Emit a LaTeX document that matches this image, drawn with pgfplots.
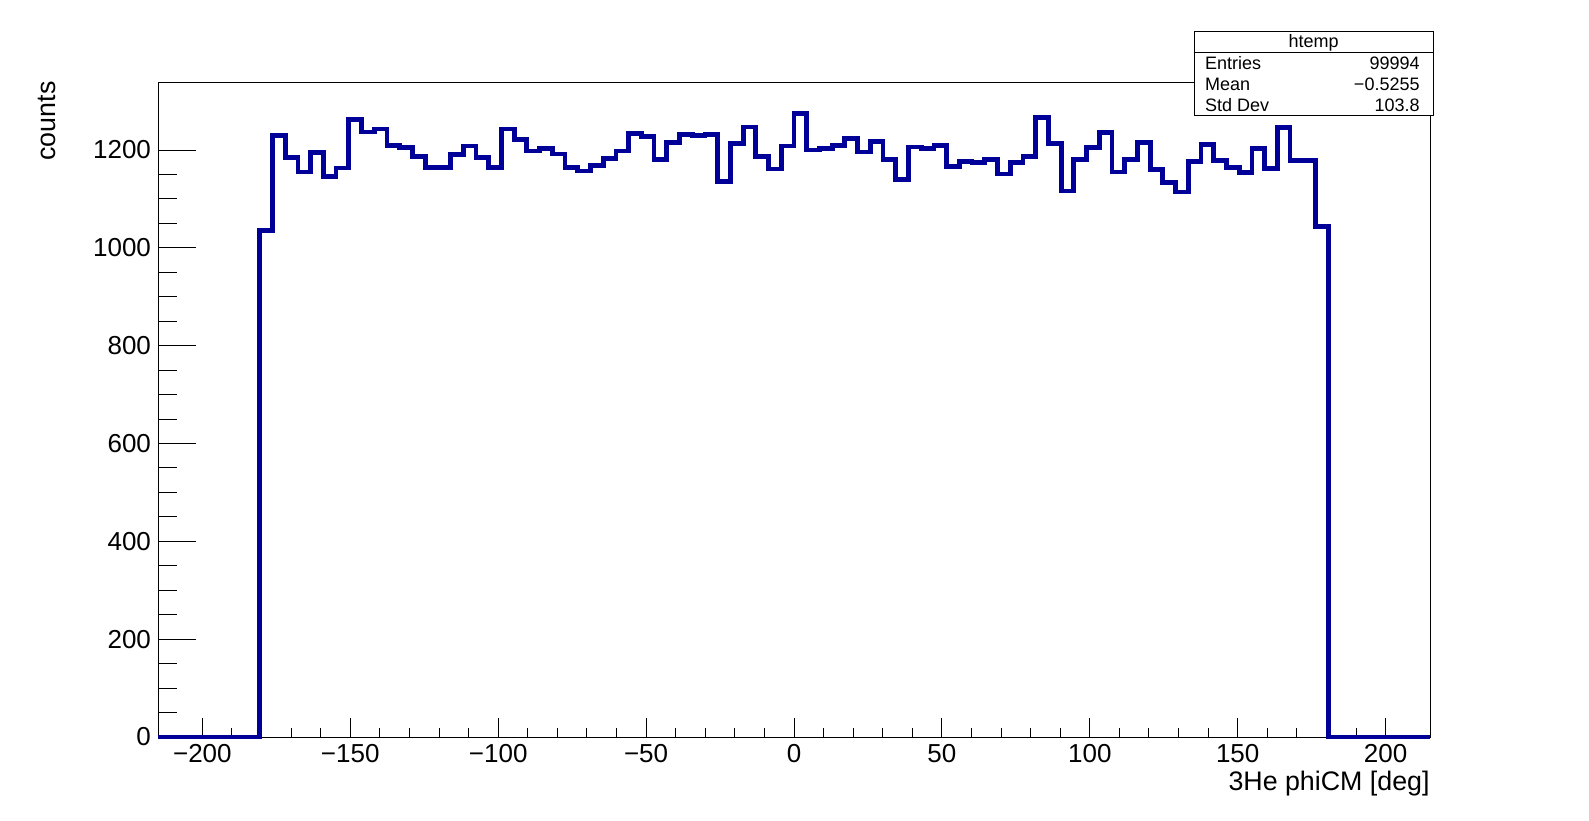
\documentclass[border=0pt]{standalone}
\usepackage{fontspec}
\setmainfont{Liberation Sans}
\usepackage{pgfplots}
\pgfplotsset{compat=1.18}
\definecolor{hblue}{RGB}{0,0,153}
\begin{document}
\begin{tikzpicture}
\path[use as bounding box] (0,0) rectangle (794.5pt,410pt);
\begin{axis}[
  at={(79pt,41.5pt)}, anchor=south west,
  scale only axis, width=636pt, height=327.25pt,
  xmin=-215, xmax=215, ymin=0, ymax=1338,
  clip=false,
  axis line style={line width=0.5pt, black},
  tick align=inside,
  tick pos=left,
  xtick={-200,-150,-100,-50,0,50,100,150,200},
  xticklabels={−200,−150,−100,−50,0,50,100,150,200},
  minor x tick num=4,
  ytick={0,200,400,600,800,1000,1200},
  yticklabels={0,200,400,600,800,1000,1200},
  minor y tick num=3,
  xtick style={line width=0.5pt, black, /pgfplots/major tick length=9.75pt, /pgfplots/minor tick length=4.75pt},
  ytick style={line width=0.5pt, black, /pgfplots/major tick length=19pt, /pgfplots/minor tick length=9.5pt},
  ticklabel style={font=\fontsize{13pt}{15pt}\selectfont},
  xlabel={3He phiCM [deg]},
  ylabel={counts},
  label style={font=\fontsize{13.4pt}{16pt}\selectfont, inner sep=0pt},
  xlabel style={at={(axis description cs:1,-0.081)}, anchor=base east},
  ylabel style={at={(axis description cs:-0.0804,1.002)}, anchor=base east},
]
\addplot[const plot mark left, draw=hblue, line width=2.4pt, mark=none] coordinates {
(-215,0)
(-180.6,1036) (-176.3,1230) (-172.0,1185) (-167.7,1155) (-163.4,1195)
(-159.1,1146) (-154.8,1163) (-150.5,1262) (-146.2,1237) (-141.9,1243)
(-137.6,1210) (-133.3,1205) (-129.0,1187) (-124.7,1165) (-120.4,1165)
(-116.1,1190) (-111.8,1208) (-107.5,1185) (-103.2,1165) (-98.9,1243)
(-94.6,1221) (-90.3,1198) (-86.0,1203) (-81.7,1192) (-77.4,1165)
(-73.1,1157) (-68.8,1169) (-64.5,1183) (-60.2,1198) (-55.9,1233)
(-51.6,1228) (-47.3,1181) (-43.0,1216) (-38.7,1232) (-34.4,1229)
(-30.1,1232) (-25.8,1135) (-21.5,1214) (-17.2,1247) (-12.9,1187)
(-8.6,1161) (-4.3,1208) (0,1275) (4.3,1200) (8.6,1203)
(12.9,1210) (17.2,1223) (21.5,1196) (25.8,1218) (30.1,1181)
(34.4,1139) (38.7,1206) (43.0,1203) (47.3,1209) (51.6,1167)
(55.9,1177) (60.2,1175) (64.5,1181) (68.8,1151) (73.1,1175)
(77.4,1187) (81.7,1267) (86.0,1214) (90.3,1116) (94.6,1181)
(98.9,1205) (103.2,1236) (107.5,1155) (111.8,1181) (116.1,1216)
(120.4,1160) (124.7,1133) (129.0,1114) (133.3,1177) (137.6,1212)
(141.9,1179) (146.2,1165) (150.5,1154) (154.8,1203) (159.1,1162)
(163.4,1246) (167.7,1178) (172.0,1179) (176.3,1043)
(180.6,0) (215,0)
};
\draw[fill=white, line width=0.5pt] (axis description cs:0.8145,0.9496) rectangle (axis description cs:1.0024,1.0779);
\draw[line width=0.5pt] (axis description cs:0.8145,1.0455) -- (axis description cs:1.0024,1.0455);
\node[anchor=base, inner sep=0pt, font=\fontsize{9pt}{10pt}\selectfont] at (axis description cs:0.90845,1.0527) {htemp};
\node[anchor=base west, inner sep=0pt, font=\fontsize{9pt}{10pt}\selectfont] at (axis description cs:0.8228,1.0202) {Entries};
\node[anchor=base east, inner sep=0pt, font=\fontsize{9pt}{10pt}\selectfont] at (axis description cs:0.9921,1.0202) {99994};
\node[anchor=base west, inner sep=0pt, font=\fontsize{9pt}{10pt}\selectfont] at (axis description cs:0.8228,0.9878) {Mean};
\node[anchor=base east, inner sep=0pt, font=\fontsize{9pt}{10pt}\selectfont] at (axis description cs:0.9921,0.9878) {−0.5255};
\node[anchor=base west, inner sep=0pt, font=\fontsize{9pt}{10pt}\selectfont] at (axis description cs:0.8228,0.9551) {Std Dev};
\node[anchor=base east, inner sep=0pt, font=\fontsize{9pt}{10pt}\selectfont] at (axis description cs:0.9921,0.9551) {103.8};
\end{axis}
\end{tikzpicture}
\end{document}
